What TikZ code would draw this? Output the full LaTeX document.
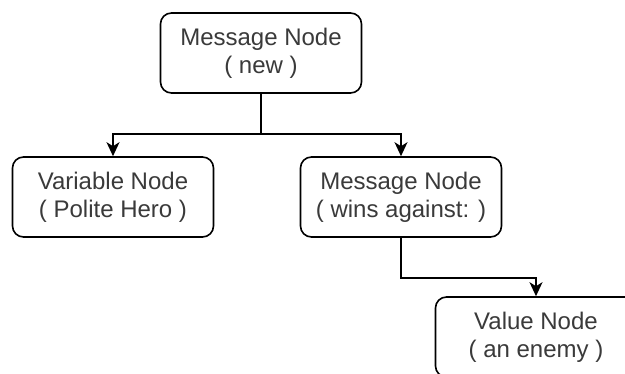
\documentclass[tikz,border=0pt]{standalone}
\usepackage{fontspec}
\setmainfont{Liberation Sans}
\usetikzlibrary{arrows.meta}
\definecolor{labelgray}{HTML}{3A3A3A}
\tikzset{
  nodebox/.style={draw=black, line width=1.6pt, rounded corners=11pt,
    minimum width=201pt, minimum height=80pt, align=center,
    text=labelgray, font=\fontsize{24}{28}\selectfont, inner sep=0pt},
  link/.style={draw=black, line width=1.6pt,
    -{Stealth[length=14pt, width=13pt, inset=4pt]}},
}
\begin{document}
\begin{tikzpicture}[x=1pt, y=-1pt]
  \clip (0,0) rectangle (625,374);
  \fill[white] (0,0) rectangle (625,374);

  \node[nodebox] (root) at (261,53)  {Message Node\\( new )};
  \node[nodebox] (var)  at (113,197) {Variable Node\\( Polite Hero )};
  \node[nodebox] (msg)  at (401,197) {Message Node\\( wins against: )};
  \node[nodebox] (val)  at (536,337) {Value Node\\( an enemy )};

  \draw[link] (root.south) -- ++(0,40) -| (var.north);
  \draw[link] (root.south) -- ++(0,40) -| (msg.north);
  \draw[link] (msg.south) -- ++(0,40) -| (val.north);
\end{tikzpicture}
\end{document}
